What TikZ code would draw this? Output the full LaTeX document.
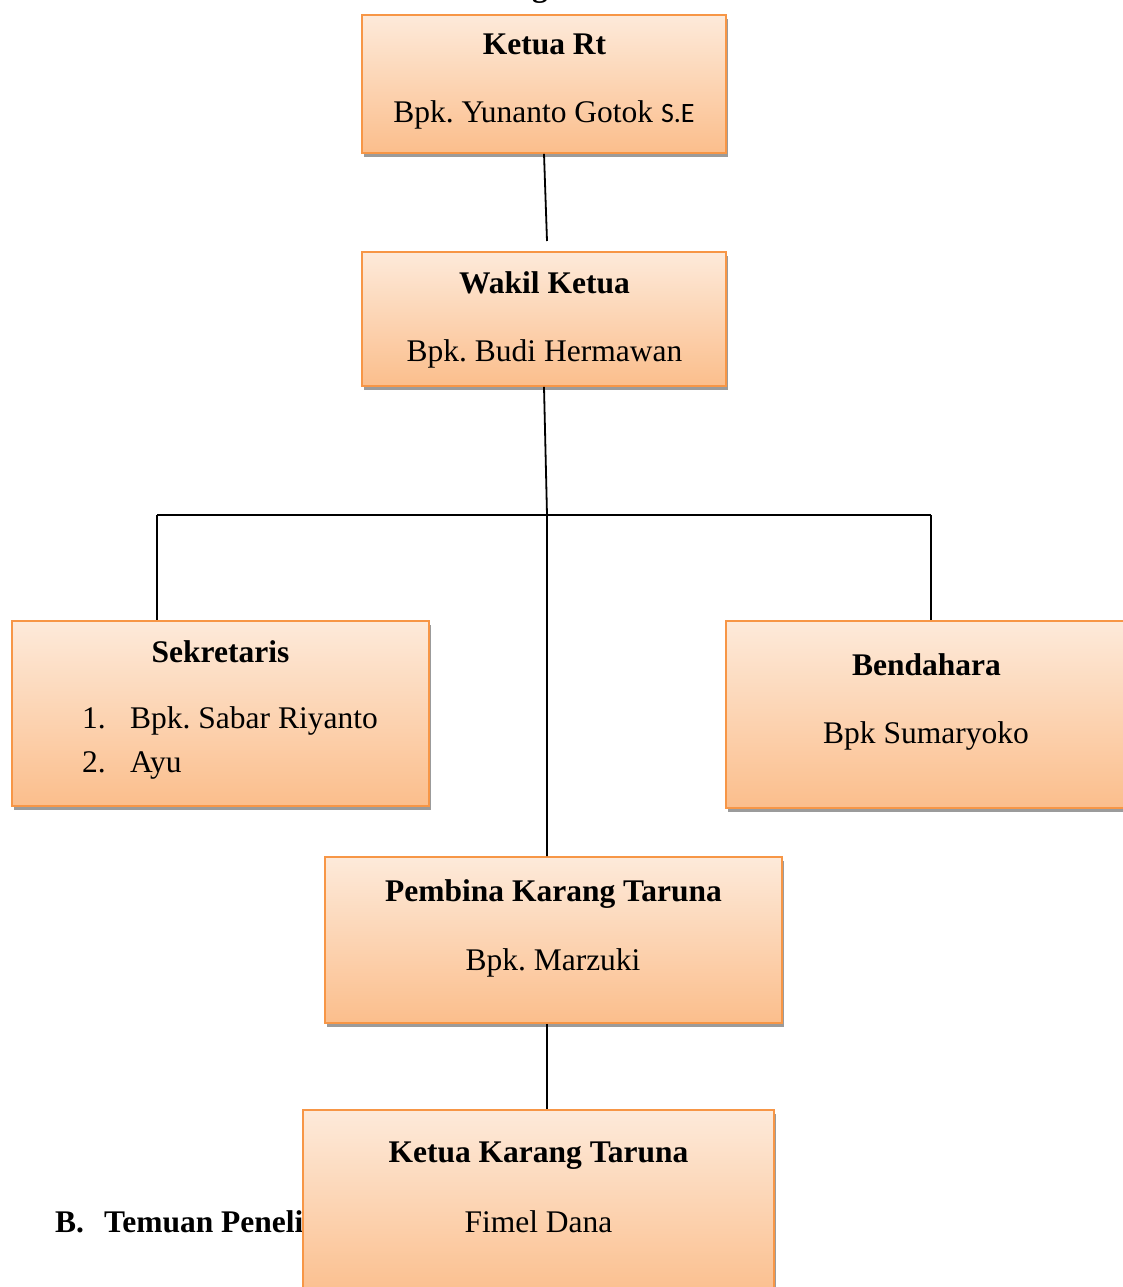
\documentclass[tikz,border=0pt]{standalone}
\usepackage{fontspec}
\setmainfont{Liberation Serif}
\newfontfamily\calibrifont{Carlito}
\usepackage{tikz}
\usetikzlibrary{shadows, positioning, calc}
\frenchspacing
\definecolor{boxtop}{RGB}{253,234,218}
\definecolor{boxbottom}{RGB}{251,190,140}
\definecolor{boxline}{RGB}{247,150,70}
\definecolor{boxshade}{RGB}{155,155,155}
\tikzstyle{orgbox} = [rectangle, draw=boxline, line width=1.6pt, top color=boxtop, bottom color=boxbottom, drop shadow={shadow xshift=1.5pt, shadow yshift=-4pt, fill=boxshade, opacity=1}]
\tikzstyle{post} = [anchor=base, inner sep=0pt, font=\fontsize{31.5}{38}\selectfont\bfseries]
\tikzstyle{person} = [anchor=base, inner sep=0pt, font=\fontsize{31.5}{38}\selectfont]
\tikzstyle{item} = [anchor=base west, inner sep=0pt, font=\fontsize{31.5}{38}\selectfont]
\tikzstyle{link} = [draw=black, line width=1.8pt]

\begin{document}
\begin{tikzpicture}[x=1pt, y=-1pt]
\useasboundingbox (0,0) rectangle (1123,1287);
\node (cut) [post] at (540,-3) {g};

\coordinate (stub) at (547,241);
\coordinate (split) at (547,515);
\coordinate (left) at (157,515);
\coordinate (right) at (931,515);

\node (ketua) [orgbox, minimum width=364pt, minimum height=138pt] at (544,84) {};
\node (ketuaT) [post] at (544.5,55) {Ketua Rt};
\node (ketuaN) [person] at (544,123) {Bpk. Yunanto Gotok {\calibrifont\fontsize{28}{34}\selectfont S.E}};

\node (wakil) [orgbox, minimum width=364pt, minimum height=134pt] at (544,319) {};
\node (wakilT) [post] at (544.5,293) {Wakil Ketua};
\node (wakilN) [person] at (544.5,361) {Bpk. Budi Hermawan};

\node (sekretaris) [orgbox, minimum width=417pt, minimum height=185pt] at (220.5,713.5) {};
\node (sekretarisT) [post] at (220.5,662) {Sekretaris};
\node (no1) [item] at (82,728) {1.};
\node (sek1) [item] at (130,728) {Bpk. Sabar Riyanto};
\node (no2) [item] at (82,772) {2.};
\node (sek2) [item] at (130,772) {Ayu};

\node (bendahara) [orgbox, minimum width=402pt, minimum height=187pt] at (927,714.5) {};
\node (bendaharaT) [post] at (926.5,675) {Bendahara};
\node (bendaharaN) [person] at (926,743) {Bpk Sumaryoko};

\node (pembina) [orgbox, minimum width=457pt, minimum height=166pt] at (553.5,940) {};
\node (pembinaT) [post] at (553.5,901) {Pembina Karang Taruna};
\node (pembinaN) [person] at (553,970) {Bpk. Marzuki};

\node (temuan) [item, font=\fontsize{31.5}{38}\selectfont\bfseries] at (55,1232) {B.};
\node (temuanT) [item, font=\fontsize{31.5}{38}\selectfont\bfseries] at (104,1232) {Temuan Peneli};

\node (kkt) [orgbox, minimum width=471pt, minimum height=190pt] at (538.5,1205) {};
\node (kktT) [post] at (538.5,1162) {Ketua Karang Taruna};
\node (kktN) [person] at (538.5,1232) {Fimel Dana};

\draw[link] (ketua.south) -- (stub);
\draw[link] (wakil.south) -- (split) -- (split |- pembina.north);
\draw[link] (left) -- (right);
\draw[link] (left) -- (left |- sekretaris.north);
\draw[link] (right) -- (right |- bendahara.north);
\draw[link] (split |- pembina.south) -- (split |- kkt.north);
\end{tikzpicture}
\end{document}
